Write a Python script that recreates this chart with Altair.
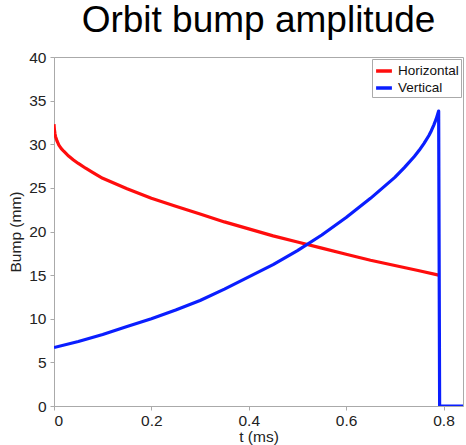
import altair as alt
import pandas as pd

# Horizontal bump (mm) vs t (ms)
h_t = [0.0, 0.0005, 0.001, 0.002, 0.003, 0.0045, 0.006, 0.008, 0.01, 0.015, 0.02, 0.03, 0.04, 0.05,
       0.065, 0.08, 0.1, 0.125, 0.15, 0.175, 0.2, 0.25, 0.3, 0.35, 0.4, 0.45, 0.5, 0.55, 0.6, 0.65,
       0.7, 0.75, 0.79]
h_v = [32.3, 31.9, 31.6, 31.2, 30.9, 30.65, 30.4, 30.15, 29.9, 29.5, 29.2, 28.65, 28.2, 27.8,
       27.25, 26.75, 26.1, 25.5, 24.9, 24.35, 23.8, 22.9, 22.0, 21.1, 20.3, 19.5, 18.8, 18.1, 17.4, 16.7,
       16.1, 15.5, 15.0]

# Vertical bump (mm) vs t (ms)
v_t = [0.0, 0.05, 0.1, 0.15, 0.2, 0.25, 0.3, 0.35, 0.4, 0.45, 0.5, 0.55, 0.6, 0.65, 0.7, 0.72,
       0.74, 0.75, 0.76, 0.77, 0.775, 0.78, 0.785, 0.79, 0.792, 0.84]
v_v = [6.7, 7.4, 8.2, 9.1, 10.0, 11.0, 12.1, 13.4, 14.8, 16.2, 17.8, 19.6, 21.6, 23.8, 26.2, 27.35,
       28.6, 29.3, 30.1, 31.0, 31.55, 32.2, 32.9, 33.8, 0.0, 0.0]

rows = []
for i, (t, v) in enumerate(zip(h_t, h_v)):
    rows.append({"t": t, "bump": v, "series": "Horizontal", "order": i})
for i, (t, v) in enumerate(zip(v_t, v_v)):
    rows.append({"t": t, "bump": v, "series": "Vertical", "order": i})
df = pd.DataFrame(rows)

axis_common = dict(
    grid=False, domainColor="#aaaaaa", tickColor="#aaaaaa", tickSize=4,
    labelFont="Liberation Sans", labelFontSize=15.5, labelColor="#222222",
    titleFont="Liberation Sans", titleFontSize=15.5, titleFontWeight="normal", titleColor="#222222",
)

chart = alt.Chart(df).mark_line(strokeWidth=3.2, clip=True, strokeJoin="round").encode(
    x=alt.X("t:Q", scale=alt.Scale(domain=[0, 0.84], nice=False),
            axis=alt.Axis(title="t (ms)", values=[0, 0.2, 0.4, 0.6, 0.8], format="~g",
                          titlePadding=1, labelPadding=3, **axis_common)),
    y=alt.Y("bump:Q", scale=alt.Scale(domain=[0, 40], nice=False),
            axis=alt.Axis(title="Bump (mm)", values=list(range(0, 41, 5)),
                          titlePadding=5, labelPadding=4, **axis_common)),
    color=alt.Color("series:N",
                    scale=alt.Scale(domain=["Horizontal", "Vertical"], range=["#ff0d0d", "#0a1eff"]),
                    legend=alt.Legend(title=None, orient="top-right", offset=2,
                                      strokeColor="#aaaaaa", fillColor="white", padding=2,
                                      symbolType="stroke", symbolStrokeWidth=3.5, symbolSize=250,
                                      labelFont="Liberation Sans", labelFontSize=13.5, labelColor="#111111",
                                      rowPadding=0)),
    order="order:Q",
).properties(
    width=409, height=349,
    title=alt.TitleParams("Orbit bump amplitude", font="Liberation Sans", fontSize=37,
                          fontWeight="normal", color="#000000", anchor="middle", offset=10),
    autosize=alt.AutoSizeParams(type="none"),
    padding={"left": 54, "top": 57, "right": 3, "bottom": 39},
).configure_view(stroke="#aaaaaa", strokeWidth=1)

chart.save("out.html", embed_options={"renderer": "svg", "actions": False})
